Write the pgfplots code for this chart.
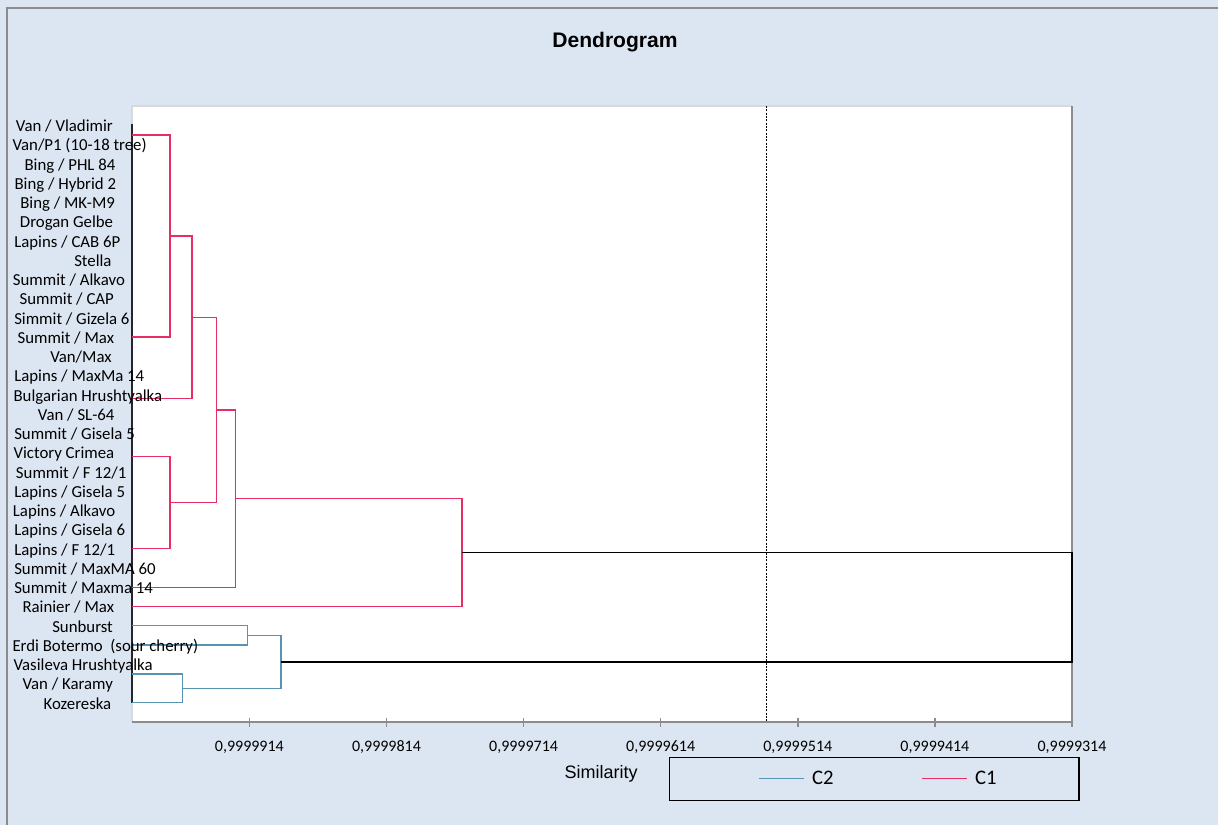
\documentclass[border=0pt]{standalone}
\usepackage{fontspec}
\setmainfont{Carlito}
\newfontfamily\arialf{Liberation Sans}
\usepackage{pgfplots}
\pgfplotsset{compat=1.18}
\definecolor{bgc}{RGB}{220,230,242}
\definecolor{framegray}{RGB}{140,140,140}
\definecolor{lightframe}{RGB}{217,217,217}
\definecolor{redone}{RGB}{230,45,100}
\definecolor{bluetwo}{RGB}{88,148,178}
\begin{document}
\begin{tikzpicture}
\useasboundingbox (0,0) rectangle (913.5pt,618.75pt);
\fill[bgc] (0,0) rectangle (913.5pt,618.75pt);
\draw[line width=1.5pt, framegray] (5.25pt,0) -- (5.25pt,612.75pt) -- (913.5pt,612.75pt);
\begin{axis}[
  at={(99pt,77.25pt)}, anchor=south west,
  scale only axis, width=705pt, height=462pt,
  xmin=-0.856, xmax=6, ymin=0, ymax=32, y dir=reverse,
  clip=false,
  axis line style={draw=none},
  axis background/.style={fill=white},
  xtick={0,1,2,3,4,5,6},
  xticklabels={{0,9999914},{0,9999814},{0,9999714},{0,9999614},{0,9999514},{0,9999414},{0,9999314}},
  ytick=\empty,
  xtick pos=left,
  tick align=center,
  major tick length=6.75pt,
  every tick/.style={framegray, line width=1.2pt},
  xticklabel style={font=\fontsize{12}{14}\selectfont, anchor=center, yshift=-15.75pt},
  title={Dendrogram},
  title style={font=\arialf\bfseries\fontsize{15.8}{18}\selectfont, at={(axis description cs:0.5138,1.107)}, anchor=center, yshift=-7.5pt},
  xlabel={Similarity},
  xlabel style={font=\arialf\fontsize{13.5}{16}\selectfont, at={(axis description cs:0.499,-0.0828)}, anchor=center, yshift=-1pt},
  legend columns=2,
  legend style={at={(axis description cs:0.5713,-0.0568)}, anchor=north west,
    draw=black, line width=0.9pt, fill=none,
    font=\fontsize{15.5}{17}\selectfont,
    inner xsep=59.75pt, inner ysep=8.2pt,
    /tikz/every odd column/.append style={column sep=3.75pt},
    /tikz/every even column/.append style={column sep=63.75pt},
    cells={anchor=west}},
]
% plot area frame
\draw[lightframe, line width=1pt] (rel axis cs:0,0) -- (rel axis cs:0,1) -- (rel axis cs:1,1);
\draw[framegray, line width=1.5pt] (rel axis cs:0,0) -- (rel axis cs:1,0) -- (rel axis cs:1,1);
% truncation line
\addplot[black, line width=0.7pt, dash pattern=on 1.5pt off 1pt, forget plot] coordinates {(3.770,0) (3.770,32)};
% zero-height merges along the left edge
\addplot[black!85, line width=1.2pt, forget plot] coordinates {(-0.856,0.95) (-0.856,31)};
% C1 (red)
\addplot[redone, line width=1pt, forget plot] coordinates {(-0.856,1.5) (-0.579,1.5) (-0.579,12) (-0.856,12)};
\addplot[redone, line width=1pt, forget plot] coordinates {(-0.579,6.75) (-0.418,6.75) (-0.418,15.2) (-0.856,15.2)};
\addplot[redone, line width=1pt, forget plot] coordinates {(-0.856,18.2) (-0.579,18.2) (-0.579,23) (-0.856,23)};
\addplot[redone, line width=1pt, forget plot] coordinates {(-0.418,10.975) (-0.238,10.975) (-0.238,20.6) (-0.579,20.6)};
\addplot[redone, line width=1pt, forget plot] coordinates {(-0.238,15.79) (-0.101,15.79) (-0.101,25) (-0.856,25)};
\addplot[redone, line width=1pt, forget plot] coordinates {(-0.101,20.39) (1.552,20.39) (1.552,26) (-0.856,26)};
% C2 (blue)
\addplot[bluetwo, line width=1pt, forget plot] coordinates {(-0.856,27) (-0.012,27) (-0.012,28) (-0.856,28)};
\addplot[bluetwo, line width=1pt, forget plot] coordinates {(-0.856,29.5) (-0.487,29.5) (-0.487,31) (-0.856,31)};
\addplot[bluetwo, line width=1pt, forget plot] coordinates {(-0.012,27.5) (0.231,27.5) (0.231,30.25) (-0.487,30.25)};
% root (black)
\addplot[black, line width=1pt, forget plot] coordinates {(1.552,23.2) (6,23.2) (6,28.875) (0.231,28.875)};
% legend
\addlegendimage{legend image code/.code={\path (-6.75pt,0pt); \draw[bluetwo, line width=0.9pt] (0pt,0pt) -- (33.75pt,0pt);}}
\addlegendentry{C2}
\addlegendimage{legend image code/.code={\draw[redone, line width=0.9pt] (0pt,0pt) -- (33.75pt,0pt);}}
\addlegendentry{C1}
% leaf labels
\tikzset{leaf/.style={anchor=base west, inner sep=0pt, font=\fontsize{12.6}{14}\selectfont, yshift=-4.8pt}}
\node[leaf, xshift=-87.2pt] at (axis cs:-0.856,1) {Van / Vladimir};
\node[leaf, xshift=-89.8pt] at (axis cs:-0.856,2) {Van/P1 (10-18 tree)};
\node[leaf, xshift=-80.8pt] at (axis cs:-0.856,3) {Bing / PHL 84};
\node[leaf, xshift=-88.3pt] at (axis cs:-0.856,4) {Bing / Hybrid 2};
\node[leaf, xshift=-84pt] at (axis cs:-0.856,5) {Bing / MK-M9};
\node[leaf, xshift=-84.2pt] at (axis cs:-0.856,6) {Drogan Gelbe};
\node[leaf, xshift=-88.5pt] at (axis cs:-0.856,7) {Lapins / CAB 6P};
\node[leaf, xshift=-43.5pt] at (axis cs:-0.856,8) {Stella};
\node[leaf, xshift=-89.5pt] at (axis cs:-0.856,9) {Summit / Alkavo};
\node[leaf, xshift=-84.5pt] at (axis cs:-0.856,10) {Summit / CAP};
\node[leaf, xshift=-88.5pt] at (axis cs:-0.856,11) {Simmit / Gizela 6};
\node[leaf, xshift=-86pt] at (axis cs:-0.856,12) {Summit / Max};
\node[leaf, xshift=-61.5pt] at (axis cs:-0.856,13) {Van/Max};
\node[leaf, xshift=-88.5pt] at (axis cs:-0.856,14) {Lapins / MaxMa 14};
\node[leaf, xshift=-89pt] at (axis cs:-0.856,15) {Bulgarian Hrushtyalka};
\node[leaf, xshift=-70.7pt] at (axis cs:-0.856,16) {Van / SL-64};
\node[leaf, xshift=-88.5pt] at (axis cs:-0.856,17) {Summit / Gisela 5};
\node[leaf, xshift=-89pt] at (axis cs:-0.856,18) {Victory Crimea};
\node[leaf, xshift=-87.2pt] at (axis cs:-0.856,19) {Summit / F 12/1};
\node[leaf, xshift=-88.5pt] at (axis cs:-0.856,20) {Lapins / Gisela 5};
\node[leaf, xshift=-89.5pt] at (axis cs:-0.856,21) {Lapins / Alkavo};
\node[leaf, xshift=-88.5pt] at (axis cs:-0.856,22) {Lapins / Gisela 6};
\node[leaf, xshift=-88.5pt] at (axis cs:-0.856,23) {Lapins / F 12/1};
\node[leaf, xshift=-88.5pt] at (axis cs:-0.856,24) {Summit / MaxMA 60};
\node[leaf, xshift=-88.5pt] at (axis cs:-0.856,25) {Summit / Maxma 14};
\node[leaf, xshift=-82.3pt] at (axis cs:-0.856,26) {Rainier / Max};
\node[leaf, xshift=-60pt] at (axis cs:-0.856,27) {Sunburst};
\node[leaf, xshift=-89.8pt] at (axis cs:-0.856,28) {Erdi Botermo\ \ (sour cherry)};
\node[leaf, xshift=-89pt] at (axis cs:-0.856,29) {Vasileva Hrushtyalka};
\node[leaf, xshift=-82.3pt] at (axis cs:-0.856,30) {Van / Karamy};
\node[leaf, xshift=-66.5pt] at (axis cs:-0.856,31) {Kozereska};
\end{axis}
\end{tikzpicture}
\end{document}
